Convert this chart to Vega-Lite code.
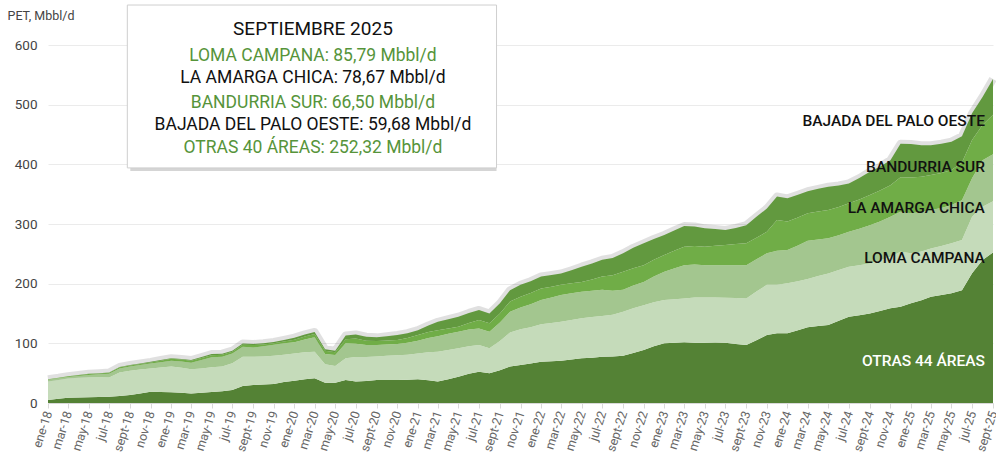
{
  "$schema": "https://vega.github.io/schema/vega-lite/v6.json",
  "width": 945,
  "height": 358,
  "autosize": {"type": "none"},
  "padding": {"left": 48, "top": 45, "right": 3, "bottom": 58},
  "background": "white",
  "config": {"view": {"stroke": null}, "font": "Roboto"},
  "datasets": {
    "prod": [
      {"date":"2018-01-01","otras":5,"loma":31,"lac":3,"bandurria":1,"bpo":0},
      {"date":"2018-02-01","otras":7,"loma":31.5,"lac":2.8,"bandurria":1,"bpo":0},
      {"date":"2018-03-01","otras":9,"loma":32,"lac":2.5,"bandurria":1.5,"bpo":0},
      {"date":"2018-04-01","otras":9.2,"loma":33,"lac":3,"bandurria":1.5,"bpo":0.3},
      {"date":"2018-05-01","otras":9.5,"loma":33.5,"lac":4,"bandurria":1.5,"bpo":0.5},
      {"date":"2018-06-01","otras":10,"loma":33,"lac":5,"bandurria":1.5,"bpo":0.5},
      {"date":"2018-07-01","otras":10.6,"loma":32,"lac":6.5,"bandurria":1.5,"bpo":0.5},
      {"date":"2018-08-01","otras":11.7,"loma":39.3,"lac":7,"bandurria":1.8,"bpo":0.6},
      {"date":"2018-09-01","otras":13.4,"loma":40.6,"lac":7,"bandurria":2,"bpo":0.7},
      {"date":"2018-10-01","otras":16,"loma":40,"lac":7.5,"bandurria":2,"bpo":0.8},
      {"date":"2018-11-01","otras":19,"loma":39,"lac":8,"bandurria":2,"bpo":1},
      {"date":"2018-12-01","otras":18.5,"loma":41,"lac":9,"bandurria":2.5,"bpo":1},
      {"date":"2019-01-01","otras":18,"loma":43,"lac":10,"bandurria":3,"bpo":1},
      {"date":"2019-02-01","otras":17,"loma":42,"lac":10.5,"bandurria":3.2,"bpo":1},
      {"date":"2019-03-01","otras":16,"loma":40.4,"lac":11.2,"bandurria":3.4,"bpo":1},
      {"date":"2019-04-01","otras":17,"loma":41,"lac":14,"bandurria":3.5,"bpo":1.5},
      {"date":"2019-05-01","otras":18.4,"loma":41.6,"lac":16.5,"bandurria":3.5,"bpo":2},
      {"date":"2019-06-01","otras":19.5,"loma":41.5,"lac":16.5,"bandurria":3.2,"bpo":2},
      {"date":"2019-07-01","otras":21.8,"loma":44.7,"lac":16.5,"bandurria":3,"bpo":1.7},
      {"date":"2019-08-01","otras":28.5,"loma":49,"lac":16.8,"bandurria":3.5,"bpo":2},
      {"date":"2019-09-01","otras":30,"loma":47.6,"lac":15.4,"bandurria":4,"bpo":2},
      {"date":"2019-10-01","otras":31,"loma":47,"lac":17,"bandurria":3,"bpo":2},
      {"date":"2019-11-01","otras":32,"loma":47,"lac":18.8,"bandurria":2.5,"bpo":2},
      {"date":"2019-12-01","otras":35,"loma":46,"lac":19,"bandurria":3.2,"bpo":2.5},
      {"date":"2020-01-01","otras":37.4,"loma":45.6,"lac":19,"bandurria":4,"bpo":3.5},
      {"date":"2020-02-01","otras":40,"loma":45,"lac":21.5,"bandurria":5,"bpo":3.5},
      {"date":"2020-03-01","otras":41.3,"loma":44.7,"lac":24,"bandurria":5.6,"bpo":3.4},
      {"date":"2020-04-01","otras":34,"loma":31,"lac":17,"bandurria":5.7,"bpo":2.3},
      {"date":"2020-05-01","otras":34,"loma":28,"lac":18.4,"bandurria":4.6,"bpo":2.7},
      {"date":"2020-06-01","otras":38.5,"loma":36.5,"lac":25,"bandurria":6.7,"bpo":6.3},
      {"date":"2020-07-01","otras":36,"loma":41,"lac":22.4,"bandurria":8.6,"bpo":7},
      {"date":"2020-08-01","otras":37,"loma":40,"lac":20,"bandurria":7.5,"bpo":6.5},
      {"date":"2020-09-01","otras":38.5,"loma":39.5,"lac":19,"bandurria":7,"bpo":6},
      {"date":"2020-10-01","otras":38.5,"loma":40.5,"lac":19,"bandurria":6.8,"bpo":7},
      {"date":"2020-11-01","otras":38.5,"loma":41.5,"lac":19,"bandurria":6.6,"bpo":8.4},
      {"date":"2020-12-01","otras":39,"loma":42,"lac":20,"bandurria":8,"bpo":8},
      {"date":"2021-01-01","otras":39.7,"loma":43.3,"lac":21.5,"bandurria":9.5,"bpo":8},
      {"date":"2021-02-01","otras":38,"loma":47,"lac":24,"bandurria":10,"bpo":11},
      {"date":"2021-03-01","otras":36,"loma":50,"lac":26,"bandurria":10,"bpo":14},
      {"date":"2021-04-01","otras":40,"loma":49,"lac":27,"bandurria":9,"bpo":15.5},
      {"date":"2021-05-01","otras":44,"loma":47.6,"lac":28,"bandurria":8.4,"bpo":16.7},
      {"date":"2021-06-01","otras":49,"loma":46,"lac":28,"bandurria":11,"bpo":17},
      {"date":"2021-07-01","otras":52.5,"loma":44.5,"lac":28,"bandurria":14,"bpo":17},
      {"date":"2021-08-01","otras":50,"loma":41.6,"lac":28,"bandurria":13.9,"bpo":16.5},
      {"date":"2021-09-01","otras":55,"loma":49,"lac":31,"bandurria":15,"bpo":17},
      {"date":"2021-10-01","otras":61,"loma":57,"lac":35,"bandurria":17,"bpo":19},
      {"date":"2021-11-01","otras":63.7,"loma":59.8,"lac":36.5,"bandurria":18,"bpo":20},
      {"date":"2021-12-01","otras":66,"loma":61,"lac":38.5,"bandurria":18.7,"bpo":20},
      {"date":"2022-01-01","otras":69,"loma":63,"lac":40.6,"bandurria":19.4,"bpo":20},
      {"date":"2022-02-01","otras":70,"loma":64,"lac":43,"bandurria":18,"bpo":19.5},
      {"date":"2022-03-01","otras":71,"loma":65,"lac":45,"bandurria":17,"bpo":19},
      {"date":"2022-04-01","otras":73,"loma":66,"lac":45,"bandurria":16.5,"bpo":22},
      {"date":"2022-05-01","otras":75,"loma":67,"lac":44.6,"bandurria":16.4,"bpo":25.5},
      {"date":"2022-06-01","otras":76,"loma":68,"lac":44,"bandurria":19,"bpo":27},
      {"date":"2022-07-01","otras":77.7,"loma":68.3,"lac":44,"bandurria":22,"bpo":28},
      {"date":"2022-08-01","otras":78,"loma":70,"lac":40,"bandurria":26,"bpo":29},
      {"date":"2022-09-01","otras":79,"loma":74,"lac":37,"bandurria":30,"bpo":31},
      {"date":"2022-10-01","otras":84,"loma":75,"lac":38,"bandurria":29,"bpo":34},
      {"date":"2022-11-01","otras":89,"loma":75,"lac":39,"bandurria":28,"bpo":36.6},
      {"date":"2022-12-01","otras":95,"loma":74,"lac":43,"bandurria":28,"bpo":35},
      {"date":"2023-01-01","otras":100,"loma":72.6,"lac":47.4,"bandurria":28,"bpo":33.6},
      {"date":"2023-02-01","otras":101,"loma":73,"lac":52,"bandurria":29.5,"bpo":34},
      {"date":"2023-03-01","otras":101.7,"loma":73.3,"lac":56,"bandurria":31,"bpo":34.6},
      {"date":"2023-04-01","otras":101,"loma":76,"lac":55,"bandurria":31,"bpo":33},
      {"date":"2023-05-01","otras":101,"loma":76,"lac":54,"bandurria":31,"bpo":30.7},
      {"date":"2023-06-01","otras":101.5,"loma":75.5,"lac":54,"bandurria":32.5,"bpo":28},
      {"date":"2023-07-01","otras":101,"loma":75.5,"lac":54.5,"bandurria":34,"bpo":25},
      {"date":"2023-08-01","otras":99,"loma":77,"lac":55,"bandurria":35.5,"bpo":27},
      {"date":"2023-09-01","otras":97,"loma":78,"lac":56,"bandurria":36.6,"bpo":30.4},
      {"date":"2023-10-01","otras":105,"loma":82,"lac":54,"bandurria":36,"bpo":35},
      {"date":"2023-11-01","otras":114,"loma":84,"lac":53,"bandurria":36,"bpo":39},
      {"date":"2023-12-01","otras":116.8,"loma":81.2,"lac":57,"bandurria":51.7,"bpo":39.3},
      {"date":"2024-01-01","otras":116.8,"loma":83.8,"lac":56,"bandurria":47.4,"bpo":39},
      {"date":"2024-02-01","otras":122,"loma":82,"lac":60,"bandurria":47,"bpo":38},
      {"date":"2024-03-01","otras":127,"loma":81,"lac":64,"bandurria":46,"bpo":37},
      {"date":"2024-04-01","otras":129,"loma":84,"lac":61,"bandurria":47,"bpo":38},
      {"date":"2024-05-01","otras":130.7,"loma":86.3,"lac":59,"bandurria":47.5,"bpo":39},
      {"date":"2024-06-01","otras":138,"loma":85,"lac":58,"bandurria":47.5,"bpo":36},
      {"date":"2024-07-01","otras":144.7,"loma":83.8,"lac":58.5,"bandurria":47.6,"bpo":33.4},
      {"date":"2024-08-01","otras":147,"loma":84,"lac":61,"bandurria":49,"bpo":36},
      {"date":"2024-09-01","otras":150,"loma":84,"lac":64,"bandurria":50.6,"bpo":39},
      {"date":"2024-10-01","otras":154,"loma":85,"lac":65,"bandurria":52,"bpo":40},
      {"date":"2024-11-01","otras":158.7,"loma":86.3,"lac":67,"bandurria":53,"bpo":42},
      {"date":"2024-12-01","otras":161.5,"loma":92,"lac":67,"bandurria":58,"bpo":56},
      {"date":"2025-01-01","otras":167,"loma":83.8,"lac":67.2,"bandurria":60,"bpo":56},
      {"date":"2025-02-01","otras":172,"loma":82,"lac":66,"bandurria":59,"bpo":53},
      {"date":"2025-03-01","otras":178,"loma":81,"lac":64.5,"bandurria":58.5,"bpo":50},
      {"date":"2025-04-01","otras":181,"loma":82,"lac":64,"bandurria":58.5,"bpo":49},
      {"date":"2025-05-01","otras":183.8,"loma":83.8,"lac":64.2,"bandurria":58.7,"bpo":47.5},
      {"date":"2025-06-01","otras":189,"loma":84,"lac":67,"bandurria":63,"bpo":44},
      {"date":"2025-07-01","otras":217.3,"loma":94.7,"lac":64.5,"bandurria":64.3,"bpo":44.7},
      {"date":"2025-08-01","otras":239.7,"loma":89.3,"lac":78,"bandurria":59,"bpo":47},
      {"date":"2025-09-01","otras":252.32,"loma":85.79,"lac":78.67,"bandurria":66.5,"bpo":59.68}
    ]
  },
  "encoding": {
    "x": {
      "field": "date", "type": "temporal",
      "scale": {"type": "utc", "nice": false, "domain": [{"year": 2018, "month": 1, "date": 1, "utc": true}, {"year": 2025, "month": 9, "date": 1, "utc": true}]},
      "axis": {
        "title": null,
        "labelExpr": "['ene','feb','mar','abr','may','jun','jul','ago','sept','oct','nov','dic'][utcmonth(datum.value)] + '-' + utcFormat(datum.value, '%y')",
        "tickCount": {"interval": "month", "step": 2},
        "labelAngle": -72, "labelFontSize": 12.5, "labelColor": "#666", "labelFont": "Roboto",
        "tickColor": "#d9d9d9", "tickSize": 5, "domainColor": "#d9d9d9",
        "grid": false, "labelPadding": 3, "labelFlush": false, "labelOverlap": false
      }
    },
    "y": {
      "field": "v", "type": "quantitative",
      "scale": {"domain": [0, 600], "nice": false},
      "axis": {
        "title": "PET, Mbbl/d", "titleAngle": 0, "titleAlign": "left", "titleBaseline": "middle",
        "titleX": -41, "titleY": -30, "titleFontWeight": "normal", "titleFontSize": 12.5, "titleColor": "#444", "titleFont": "Roboto",
        "values": [0, 100, 200, 300, 400, 500, 600],
        "grid": true, "gridColor": "#ebebeb", "ticks": false, "domain": false,
        "labelPadding": 11, "labelFontSize": 13.5, "labelColor": "#444", "labelFont": "Roboto"
      }
    }
  },
  "layer": [
    {
      "data": {"name": "prod"},
      "transform": [{"fold": ["otras", "loma", "lac", "bandurria", "bpo"], "as": ["area", "v"]}],
      "mark": {"type": "line", "color": "#000", "strokeWidth": 8, "opacity": 0.12, "strokeJoin": "round"},
      "encoding": {
        "y": {
          "aggregate": "sum", "field": "v", "type": "quantitative",
          "axis": {
            "title": "PET, Mbbl/d", "titleAngle": 0, "titleAlign": "left", "titleBaseline": "middle",
            "titleX": -41, "titleY": -30, "titleFontWeight": "normal", "titleFontSize": 12.5, "titleColor": "#444", "titleFont": "Roboto",
            "values": [0, 100, 200, 300, 400, 500, 600],
            "grid": true, "gridColor": "#ebebeb", "ticks": false, "domain": false,
            "labelPadding": 11, "labelFontSize": 13.5, "labelColor": "#444", "labelFont": "Roboto"
          }
        }
      }
    },
    {
      "data": {"name": "prod"},
      "transform": [
        {"fold": ["otras", "loma", "lac", "bandurria", "bpo"], "as": ["area", "v"]},
        {"calculate": "indexof(['otras','loma','lac','bandurria','bpo'], datum.area)", "as": "stackorder"}
      ],
      "mark": {"type": "area"},
      "encoding": {
        "color": {
          "field": "area", "type": "nominal",
          "scale": {"domain": ["otras", "loma", "lac", "bandurria", "bpo"], "range": ["#548235", "#C5DBBA", "#A3C68F", "#70AD47", "#62993F"]},
          "legend": null
        },
        "order": {"field": "stackorder", "type": "quantitative", "sort": "ascending"}
      }
    },
    {
      "data": {"values": [
        {"t": "BAJADA DEL PALO OESTE", "date": "2025-08-08", "v": 473},
        {"t": "BANDURRIA SUR", "date": "2025-08-08", "v": 395},
        {"t": "LA AMARGA CHICA", "date": "2025-08-08", "v": 327.6},
        {"t": "LOMA CAMPANA", "date": "2025-08-08", "v": 243.8}
      ]},
      "mark": {"type": "text", "align": "right", "baseline": "middle", "fontSize": 15.5, "fontWeight": 500, "color": "#111", "font": "Roboto"},
      "encoding": {"text": {"field": "t"}}
    },
    {
      "data": {"values": [{"t": "OTRAS 44 ÁREAS", "date": "2025-08-08", "v": 70.7}]},
      "mark": {"type": "text", "align": "right", "baseline": "middle", "fontSize": 15.5, "fontWeight": 500, "color": "#ffffff", "font": "Roboto"},
      "encoding": {"text": {"field": "t"}}
    },
    {
      "data": {"values": [{"date": "2018-08-24", "date2": "2021-08-22", "v": 394, "v2": 667}]},
      "mark": {"type": "rect", "fill": "#888", "opacity": 0.35, "xOffset": 3, "yOffset": 3},
      "encoding": {"x2": {"field": "date2"}, "y2": {"field": "v2"}}
    },
    {
      "data": {"values": [{"date": "2018-08-24", "date2": "2021-08-22", "v": 394, "v2": 667}]},
      "mark": {"type": "rect", "fill": "#ffffff", "stroke": "#cfcfcf", "strokeWidth": 1},
      "encoding": {"x2": {"field": "date2"}, "y2": {"field": "v2"}}
    },
    {
      "data": {"values": [{"t": "SEPTIEMBRE 2025", "date": "2020-02-25", "v": 627.3}]},
      "mark": {"type": "text", "align": "center", "baseline": "middle", "fontSize": 19, "fontWeight": "normal", "color": "#111", "font": "Roboto"},
      "encoding": {"text": {"field": "t"}}
    },
    {
      "data": {"values": [
        {"t": "LOMA CAMPANA: 85,79 Mbbl/d", "date": "2020-02-25", "v": 581.5},
        {"t": "BANDURRIA SUR: 66,50 Mbbl/d", "date": "2020-02-25", "v": 503.6},
        {"t": "OTRAS 40 ÁREAS: 252,32 Mbbl/d", "date": "2020-02-25", "v": 426.8}
      ]},
      "mark": {"type": "text", "align": "center", "baseline": "middle", "fontSize": 17.5, "color": "#56943A", "font": "Roboto"},
      "encoding": {"text": {"field": "t"}}
    },
    {
      "data": {"values": [
        {"t": "LA AMARGA CHICA: 78,67 Mbbl/d", "date": "2020-02-25", "v": 544},
        {"t": "BAJADA DEL PALO OESTE: 59,68 Mbbl/d", "date": "2020-02-25", "v": 466}
      ]},
      "mark": {"type": "text", "align": "center", "baseline": "middle", "fontSize": 17.5, "color": "#111", "font": "Roboto"},
      "encoding": {"text": {"field": "t"}}
    }
  ]
}
